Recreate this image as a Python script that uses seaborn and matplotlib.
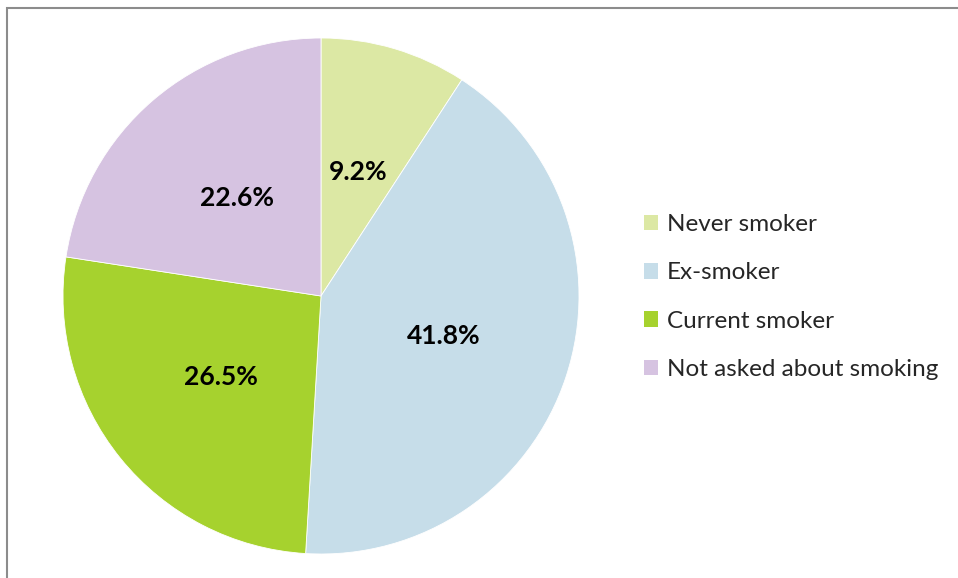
import matplotlib
matplotlib.use("Agg")
import matplotlib.pyplot as plt
import matplotlib.patches as mpatches
import seaborn as sns

# --------------------------------------------------------------
# Data
# --------------------------------------------------------------
categories = ["Never smoker", "Ex-smoker", "Current smoker", "Not asked about smoking"]
shares = [9.2, 41.8, 26.5, 22.6]
colors = ["#DCE8A4", "#C6DDE9", "#A6D22E", "#D6C3E1"]

sns.set_theme(style="white")
plt.rcParams["font.family"] = ["Lato", "DejaVu Sans"]

fig = plt.figure(figsize=(9.58, 5.78), dpi=100)
ax = fig.add_axes([63 / 958, 24 / 578, 516 / 958, 516 / 578])

palette = sns.color_palette(colors)
wedges, _, autotexts = ax.pie(
    shares,
    colors=palette,
    startangle=90,
    counterclock=False,
    autopct=lambda p: f"{p:.1f}%",
    pctdistance=0.5,
    wedgeprops={"edgecolor": "white", "linewidth": 0.6},
    textprops={"fontsize": 19, "fontweight": "bold", "color": "black"},
)
ax.set_xlim(-1, 1)
ax.set_ylim(-1, 1)
ax.set_aspect("equal")

# legend on the right
handles = [mpatches.Patch(facecolor=c, edgecolor="none") for c in palette]
fig.legend(
    handles,
    categories,
    loc="center left",
    bbox_to_anchor=(622 / 958, 1 - 297 / 578),
    frameon=False,
    fontsize=17.5,
    handlelength=0.6,
    handleheight=0.6,
    handletextpad=0.35,
    labelspacing=1.12,
)

# chart area border (runs off the right and bottom edges)
border = mpatches.Rectangle(
    (7 / 958, -0.05),
    1.0,
    1 - 8 / 578 + 0.05,
    transform=fig.transFigure,
    fill=False,
    edgecolor="#8c8c8c",
    linewidth=1.5,
    clip_on=False,
)
fig.patches.append(border)

plt.savefig("out.png", dpi=100)
